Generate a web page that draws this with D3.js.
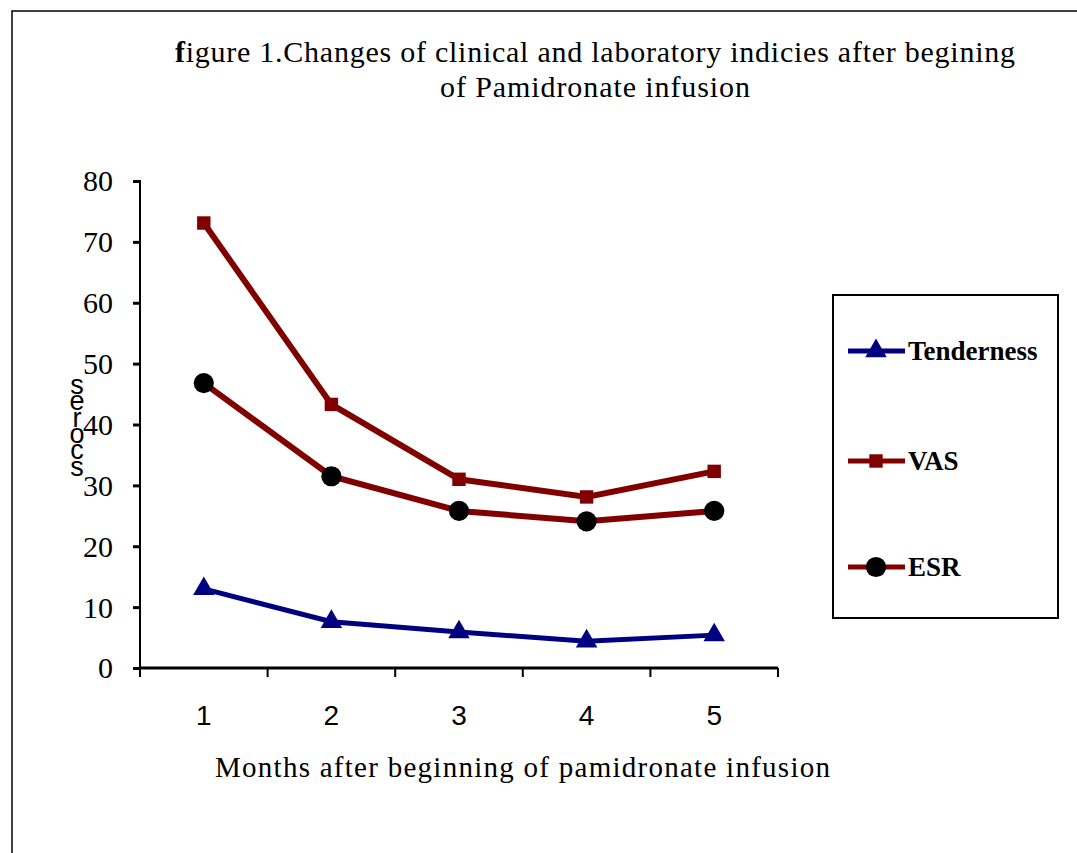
<!DOCTYPE html>
<html><head><meta charset="utf-8">
<script src="https://cdn.jsdelivr.net/npm/d3@7"></script>
<style>body{margin:0;background:#fff}svg{display:block}</style>
</head><body>
<svg id="c" width="1077" height="853"></svg>
<script>
const categories = ["1","2","3","4","5"];
const yTicks = [0,10,20,30,40,50,60,70,80];
const tenderness = [13.0, 7.6, 5.9, 4.4, 5.4];
const vas = [73.1, 43.3, 31.0, 28.1, 32.3];
const esr = [46.8, 31.5, 25.8, 24.1, 25.8];
const seriesNames = ["Tenderness","VAS","ESR"];

const svg = d3.select("#c");
svg.append("rect").attr("x",12).attr("y",11).attr("width",1100).attr("height",900)
  .attr("fill","none").attr("stroke","#000").attr("stroke-width",1.5);

const serif = "'Liberation Serif','Times New Roman',serif";
const sans = "'Liberation Sans',Arial,sans-serif";

svg.append("text").attr("x",175).attr("y",62)
  .attr("textLength",840).attr("lengthAdjust","spacing")
  .style("font-family",serif).style("font-size","30px")
  .html('<tspan font-weight="bold">f</tspan>igure 1.Changes of clinical and laboratory indicies after begining');
svg.append("text").attr("x",440).attr("y",97)
  .attr("textLength",310).attr("lengthAdjust","spacing")
  .style("font-family",serif).style("font-size","30px")
  .text("of Pamidronate infusion");

const x0 = 140, x1 = 778;
const x = d3.scaleBand().domain(categories).range([x0,x1]);
const y = d3.scaleLinear().domain([0,80]).range([668,181]);

const yAxis = svg.append("g").attr("transform",`translate(${x0},0)`)
  .call(d3.axisLeft(y).tickValues(yTicks).tickSize(7).tickPadding(20));
yAxis.select(".domain").attr("stroke","#000").attr("stroke-width",2).attr("d",`M-7,${y(80)}H0V${y(0)}`);
yAxis.selectAll(".tick line").attr("stroke","#000").attr("stroke-width",3);
yAxis.selectAll(".tick text").style("font-family",serif).style("font-size","30px").attr("fill","#000").attr("dy","0.33em");

const xAxis = svg.append("g").attr("transform",`translate(0,${y(0)})`)
  .call(d3.axisBottom(x).tickSize(0).tickPadding(37));
xAxis.select(".domain").attr("stroke","#000").attr("stroke-width",3).attr("d",`M${x0},0H${x1}`);
xAxis.selectAll(".tick text").style("font-family",sans).style("font-size","28px").attr("fill","#000");
const bounds = [x0, ...categories.map(c=>x(c)+x.bandwidth())];
svg.append("g").selectAll("line").data(bounds).join("line")
  .attr("x1",d=>d).attr("x2",d=>d).attr("y1",y(0)).attr("y2",y(0)+9)
  .attr("stroke","#000").attr("stroke-width",2);

svg.append("text").attr("x",215).attr("y",777)
  .attr("textLength",615).attr("lengthAdjust","spacing")
  .style("font-family",serif).style("font-size","29px").text("Months after beginning of pamidronate infusion");

const ylab = "scores".split("").reverse();
svg.append("text").style("font-family",sans).style("font-size","27px").attr("text-anchor","middle")
  .selectAll("tspan").data(ylab).join("tspan")
  .attr("x",77).attr("y",(d,i)=>394+i*16.3).text(d=>d);

const cx = c => x(c)+x.bandwidth()/2;
const line = d3.line().x((d,i)=>cx(categories[i])).y(d=>y(d));

function drawSeries(vals,color,width,marker,mcolor){
  svg.append("path").datum(vals).attr("d",line).attr("fill","none")
    .attr("stroke",color).attr("stroke-width",width);
  svg.append("g").selectAll("path").data(vals).join("path")
    .attr("transform",(d,i)=>`translate(${cx(categories[i])},${y(d)})`)
    .attr("d",marker).attr("fill",mcolor);
}
const tri = d3.symbol().type(d3.symbolTriangle).size(200)();
const sq = d3.symbol().type(d3.symbolSquare).size(180)();
const circ = d3.symbol().type(d3.symbolCircle).size(320)();

drawSeries(vas,"#800000",6,sq,"#800000");
drawSeries(esr,"#800000",6,circ,"#000");
drawSeries(tenderness,"#000080",5,tri,"#000080");

svg.append("rect").attr("x",833).attr("y",295).attr("width",225).attr("height",323)
  .attr("fill","#fff").attr("stroke","#000").attr("stroke-width",2);
const legY = [351,461,567];
const legCol = ["#000080","#800000","#800000"];
const legM = [tri,sq,circ];
const legMC = ["#000080","#800000","#000"];
const lg = svg.append("g").selectAll("g").data(seriesNames).join("g")
  .attr("transform",(d,i)=>`translate(0,${legY[i]})`);
lg.append("line").attr("x1",848).attr("x2",905).attr("y1",0).attr("y2",0)
  .attr("stroke",(d,i)=>legCol[i]).attr("stroke-width",5);
lg.append("path").attr("transform","translate(876,0)").attr("d",(d,i)=>legM[i]).attr("fill",(d,i)=>legMC[i]);
lg.append("text").attr("x",908).attr("y",0).attr("dy","0.34em")
  .style("font-family",serif).style("font-weight","bold").style("font-size","27px")
  .text(d=>d);
</script>
</body></html>
